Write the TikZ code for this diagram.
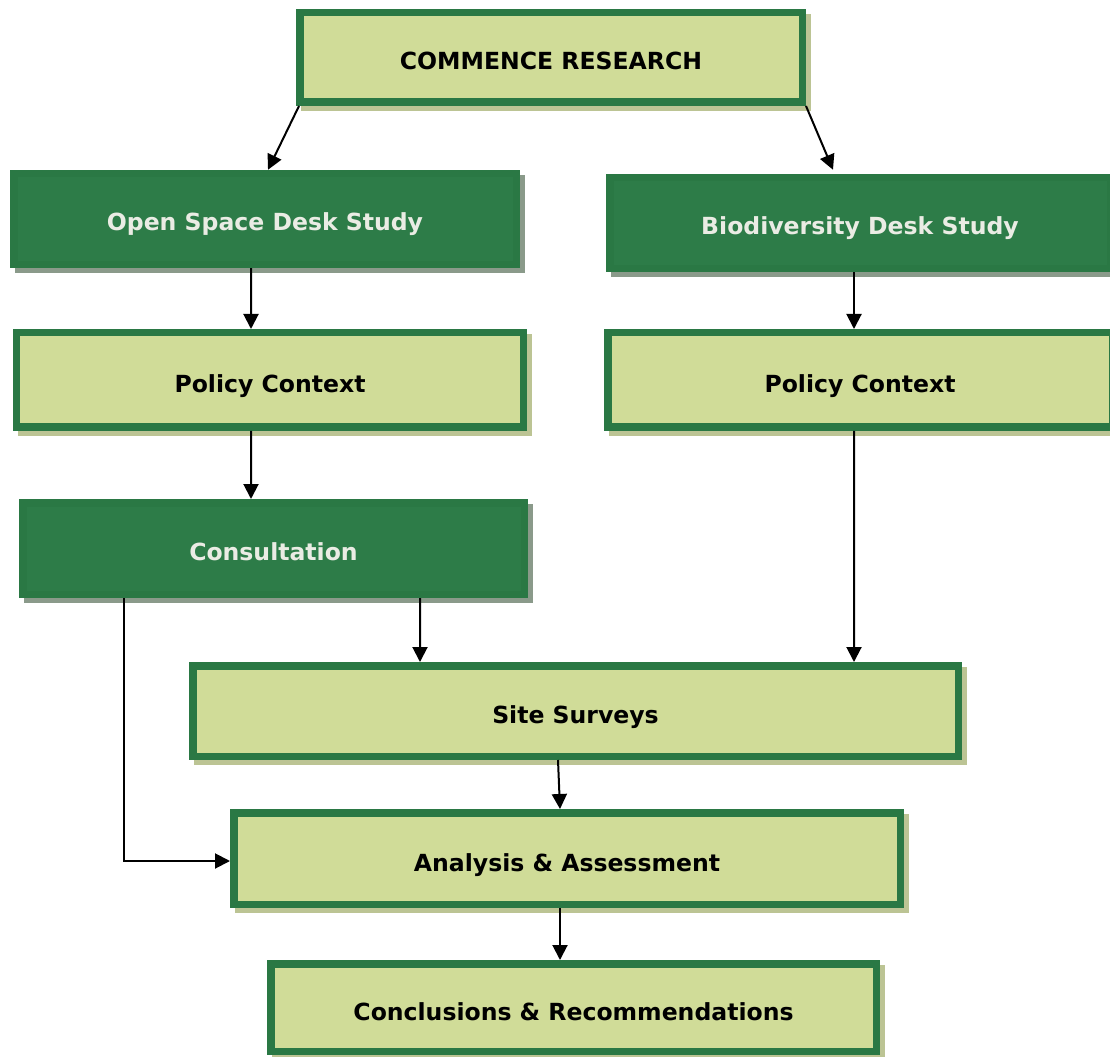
\documentclass[tikz,border=0pt]{standalone}
\usepackage{fontspec}
\setmainfont{DejaVu Sans}
\usepackage{xcolor}
\usepackage{tikz}
\usetikzlibrary{arrows.meta,positioning}
\definecolor{verdeclaro}{RGB}{208,220,152}
\definecolor{verdeborde}{RGB}{42,120,68}
\definecolor{verdeoscuro}{RGB}{45,124,72}
\definecolor{textoclaro}{RGB}{234,236,228}
\definecolor{sombraclara}{RGB}{188,196,148}
\definecolor{sombraoscura}{RGB}{138,154,138}

\begin{document}
\begin{tikzpicture}[
sombra/.style={preaction={draw=#1,fill=#1,transform canvas={shift={(0.1cm,-0.1cm)}}}},
paso/.style={draw=verdeborde,line width=0.15cm,fill=verdeclaro,sombra=sombraclara,minimum height=1.82cm,align=center,text height=0.5cm,text depth=0pt,font=\fontsize{13.4}{16}\selectfont\bfseries},
estudio/.style={draw=verdeborde,line width=0.15cm,fill=verdeoscuro,sombra=sombraoscura,minimum height=1.82cm,align=center,text height=0.46cm,text depth=0pt,text=textoclaro,font=\fontsize{13.4}{16}\selectfont\bfseries},
flecha/.style={-{Triangle[length=3mm,width=3mm]},line width=0.04cm}
]
\useasboundingbox (0,0) rectangle (22.2,-21.14);

\node[paso,minimum width=10.05cm,minimum height=1.79cm] (inicio) at (11.02,-1.15) {COMMENCE RESEARCH};

\node[estudio,minimum width=10.05cm] (espacio) at (5.30,-4.38) {Open Space Desk Study};
\node[estudio,minimum width=10.01cm] (biodiv) at (17.20,-4.46) {Biodiversity Desk Study};

\node[paso,minimum width=10.13cm,minimum height=1.89cm] (politicaA) at (5.40,-7.60) {Policy Context};
\node[paso,minimum width=10.09cm,minimum height=1.89cm] (politicaB) at (17.20,-7.60) {Policy Context};

\node[estudio,minimum width=10.03cm,minimum height=1.83cm] (consulta) at (5.47,-10.97) {Consultation};

\node[paso,minimum width=15.31cm,minimum height=1.81cm] (campo) at (11.51,-14.22) {Site Surveys};
\node[paso,minimum width=13.33cm,minimum height=1.83cm] (analisis) at (11.34,-17.17) {Analysis \& Assessment};
\node[paso,minimum width=12.11cm,minimum height=1.75cm] (cierre) at (11.47,-20.15) {Conclusions \& Recommendations};

\draw[flecha] ([xshift=0.06cm]inicio.south west) -- ([xshift=0.06cm]espacio.north);
\draw[flecha] (inicio.south east) -- ([xshift=-0.54cm,yshift=0.08cm]biodiv.north);
\draw[flecha] ([xshift=-0.28cm]espacio.south) -- ([xshift=-0.38cm]politicaA.north);
\draw[flecha] ([xshift=-0.12cm]biodiv.south) -- ([xshift=-0.12cm]politicaB.north);
\draw[flecha] ([xshift=-0.38cm]politicaA.south) -- ([xshift=-0.45cm]consulta.north);
\draw[flecha] ([xshift=-0.12cm]politicaB.south) -- ([xshift=5.57cm]campo.north);
\draw[flecha] ([xshift=2.93cm]consulta.south) -- ([xshift=-3.11cm]campo.north);
\draw[flecha] ([xshift=-2.99cm]consulta.south) |- ([yshift=-0.05cm]analisis.west);
\draw[flecha] ([xshift=-0.35cm]campo.south) -- ([xshift=-0.14cm]analisis.north);
\draw[flecha] ([xshift=-0.14cm]analisis.south) -- ([xshift=-0.27cm]cierre.north);
\end{tikzpicture}
\end{document}
